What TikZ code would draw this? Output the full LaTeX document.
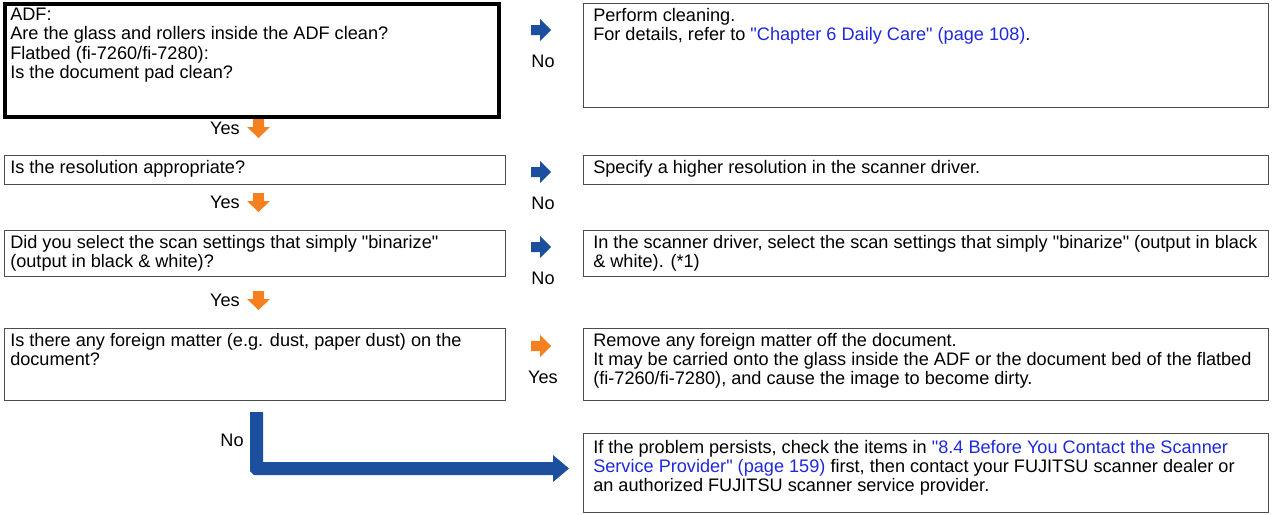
\documentclass[tikz,border=0pt]{standalone}
\usepackage{fontspec}
\setmainfont{Liberation Sans}[Ligatures=TeXOff]
\definecolor{lnk}{RGB}{30,40,220}
\definecolor{arb}{RGB}{28,80,158}
\definecolor{aro}{RGB}{245,128,32}
\begin{document}
\begin{tikzpicture}[x=0.75pt,y=-0.75pt,
  box/.style={draw=black!70,line width=0.6pt},
  txt/.style={anchor=north west,align=left,inner sep=0pt,font=\fontsize{13.6}{14.4}\selectfont},
  lbl/.style={inner sep=0pt,font=\fontsize{13.6}{14}\selectfont}]
\useasboundingbox (0,0) rectangle (1276,514);
% boxes
\draw[black,line width=3pt] (5,4) rectangle (499,117);
\draw[box] (583,3) rectangle (1268,107);
\draw[box] (4,155) rectangle (505,184);
\draw[box] (583,155) rectangle (1268,184);
\draw[box] (4,230) rectangle (505,276);
\draw[box] (583,230) rectangle (1268,276);
\draw[box] (4,328) rectangle (505,400);
\draw[box] (583,328) rectangle (1268,400);
\draw[box] (583,433) rectangle (1268,512);
% texts
\node[txt] (q1) at (10,8) {ADF:\\Are the glass and rollers inside the ADF clean?\\Flatbed (fi-7260/fi-7280):\\Is the document pad clean?};
\node[txt] (a1) at (593,8) {Perform cleaning.\\For details, refer to \textcolor{lnk}{"Chapter 6 Daily Care" (page 108)}.};
\node[txt] (q2) at (10,160) {Is the resolution appropriate?};
\node[txt] (a2) at (593,160) {Specify a higher resolution in the scanner driver.};
\node[txt] (q3) at (10,235) {Did you select the scan settings that simply "binarize"\\(output in black \& white)?};
\node[txt] (a3) at (593,235) {In the scanner driver, select the scan settings that simply "binarize" (output in black\\\& white). (*1)};
\node[txt] (q4) at (10,333) {Is there any foreign matter (e.g. dust, paper dust) on the\\document?};
\node[txt] (a4) at (593,333) {Remove any foreign matter off the document.\\It may be carried onto the glass inside the ADF or the document bed of the flatbed\\(fi-7260/fi-7280), and cause the image to become dirty.};
\node[txt] (a5) at (593,440) {If the problem persists, check the items in \textcolor{lnk}{"8.4 Before You Contact the Scanner}\\\textcolor{lnk}{Service Provider" (page 159)} first, then contact your FUJITSU scanner dealer or\\an authorized FUJITSU scanner service provider.};
% yes arrows (down, orange)
\foreach \y/\n in {119/y1,193/y2,291/y3}{
  \fill[aro] (253,\y) -- (264,\y) -- (264,\y+8) -- (270,\y+8) -- (258.5,\y+19) -- (247,\y+8) -- (253,\y+8) -- cycle;
  \node[lbl,anchor=east] (\n) at (240,\y+9) {Yes};
}
% right arrows
\foreach \y/\c/\t/\n in {30/arb/No/r1,172/arb/No/r2,247/arb/No/r3,346/aro/Yes/r4}{
  \fill[\c] (531,\y-5) -- (540,\y-5) -- (540,\y-11) -- (551,\y) -- (540,\y+11) -- (540,\y+5) -- (531,\y+5) -- cycle;
  \node[lbl] (\n) at (543,\y+31) {\t};
}
% L connector
\fill[arb] (250,412) -- (263,412) -- (263,462) -- (553,462) -- (553,455) -- (569,468.5) -- (553,482) -- (553,475) -- (254,475) -- (250,471) -- cycle;
\node[lbl] (n5) at (232,440) {No};
\end{tikzpicture}
\end{document}
